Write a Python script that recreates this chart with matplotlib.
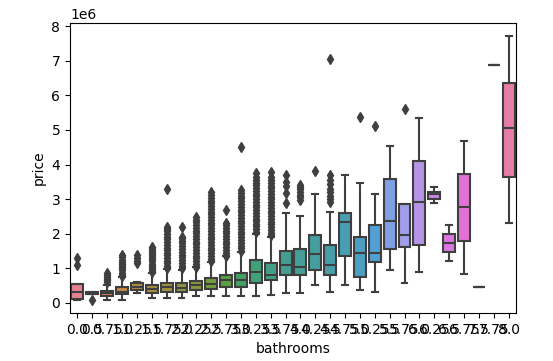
import matplotlib
matplotlib.use("Agg")
import matplotlib.pyplot as plt
import seaborn as sns

bathrooms = [0.0, 0.5, 0.75, 1.0, 1.25, 1.5, 1.75, 2.0, 2.25, 2.5, 2.75, 3.0, 3.25, 3.5, 3.75,
             4.0, 4.25, 4.5, 4.75, 5.0, 5.25, 5.5, 5.75, 6.0, 6.25, 6.5, 6.75, 7.5, 7.75, 8.0]

# price statistics in millions
q1 = [0.12, 0.26, 0.20, 0.25, 0.38, 0.28, 0.33, 0.32, 0.38, 0.40, 0.45, 0.45, 0.57, 0.65, 0.81,
      0.81, 0.95, 0.81, 1.36, 0.76, 1.18, 1.57, 1.61, 1.68, 3.00, 1.47, 1.80, 0.45, 6.89, 3.63]
median = [0.33, 0.27, 0.28, 0.33, 0.47, 0.41, 0.46, 0.44, 0.51, 0.55, 0.66, 0.66, 0.90, 0.82, 1.10,
          1.05, 1.42, 1.10, 2.35, 1.45, 1.45, 2.38, 1.96, 2.93, 3.15, 1.74, 2.77, 0.45, 6.89, 5.05]
q3 = [0.55, 0.31, 0.36, 0.45, 0.59, 0.52, 0.59, 0.58, 0.64, 0.71, 0.81, 0.86, 1.24, 1.15, 1.51,
      1.55, 1.97, 1.68, 2.61, 1.90, 2.25, 3.58, 2.86, 4.10, 3.22, 1.98, 3.73, 0.45, 6.89, 6.37]
whis_low = [0.10, 0.25, 0.09, 0.09, 0.28, 0.14, 0.13, 0.13, 0.20, 0.20, 0.20, 0.20, 0.20, 0.24, 0.28,
            0.28, 0.52, 0.31, 0.52, 0.38, 0.33, 0.95, 0.57, 0.90, 2.90, 1.21, 0.83, 0.45, 6.89, 2.30]
whis_high = [0.55, 0.32, 0.52, 0.74, 0.62, 0.87, 0.97, 0.96, 1.03, 1.18, 1.35, 1.47, 2.00, 1.90, 2.60,
             2.51, 3.15, 2.64, 3.70, 3.46, 3.15, 4.54, 2.86, 5.34, 3.34, 2.25, 4.68, 0.45, 6.89, 7.70]
outliers = [
    [1.10, 1.30],
    [0.08],
    [0.60, 0.65, 0.70, 0.75, 0.80, 0.88],
    [0.77, 0.82, 0.88, 0.94, 1.00, 1.06, 1.12, 1.18, 1.25, 1.32, 1.40],
    [1.15, 1.22, 1.30, 1.38],
    [0.90, 0.96, 1.02, 1.08, 1.14, 1.20, 1.26, 1.32, 1.38, 1.44, 1.50, 1.56, 1.62],
    [1.00, 1.07, 1.15, 1.22, 1.30, 1.38, 1.45, 1.53, 1.60, 1.68, 1.76, 1.84, 1.92, 2.00, 2.08,
     2.15, 2.20, 3.29],
    [1.00, 1.08, 1.16, 1.24, 1.32, 1.40, 1.48, 1.56, 1.64, 1.72, 1.80, 1.88, 1.92, 2.20],
    [1.05, 1.13, 1.21, 1.29, 1.37, 1.45, 1.53, 1.61, 1.69, 1.77, 1.85, 1.93, 2.01, 2.09, 2.17,
     2.25, 2.33, 2.41, 2.49],
    [1.20, 1.28, 1.36, 1.44, 1.52, 1.60, 1.68, 1.76, 1.84, 1.92, 2.00, 2.08, 2.16, 2.24, 2.32,
     2.40, 2.48, 2.56, 2.64, 2.72, 2.80, 2.88, 2.96, 3.04, 3.12, 3.22],
    [1.37, 1.45, 1.53, 1.61, 1.69, 1.77, 1.85, 1.93, 2.01, 2.09, 2.17, 2.25, 2.30, 2.70],
    [1.50, 1.58, 1.66, 1.74, 1.82, 1.90, 1.98, 2.06, 2.14, 2.22, 2.30, 2.38, 2.46, 2.54, 2.62,
     2.70, 2.78, 2.86, 2.94, 3.02, 3.10, 3.18, 3.27, 4.52],
    [2.05, 2.13, 2.21, 2.28, 2.36, 2.44, 2.52, 2.60, 2.68, 2.76, 2.84, 2.92, 3.00, 3.08, 3.16,
     3.24, 3.32, 3.40, 3.48, 3.56, 3.64, 3.75],
    [1.95, 2.03, 2.11, 2.19, 2.27, 2.35, 2.43, 2.51, 2.59, 2.67, 2.75, 2.83, 2.91, 2.99, 3.07,
     3.15, 3.23, 3.31, 3.39, 3.47, 3.55, 3.63, 3.77],
    [2.90, 3.17, 3.37, 3.50, 3.70],
    [2.98, 3.05, 3.12, 3.20, 3.28, 3.35, 3.42],
    [3.82],
    [2.93, 3.00, 3.10, 3.20, 3.30, 3.45, 3.55, 3.70, 7.06],
    [],
    [5.37],
    [5.12],
    [],
    [5.60],
    [], [], [], [], [], [], [],
]

scale = 1e6
stats = []
for i, b in enumerate(bathrooms):
    stats.append(dict(
        label=str(b),
        q1=q1[i] * scale, med=median[i] * scale, q3=q3[i] * scale,
        whislo=whis_low[i] * scale, whishi=whis_high[i] * scale,
        fliers=[v * scale for v in outliers[i]],
    ))

W, H = 553, 361
fig = plt.figure(figsize=(W / 100, H / 100), dpi=100)
ax = fig.add_axes([70 / W, 1 - 313 / H, (516 - 70) / W, (313 - 23) / H])

gray = "#3f3f3f"
lw = 1.5
palette = sns.color_palette("husl", len(bathrooms))
colors = [sns.desaturate(c, 0.75) for c in palette]

res = ax.bxp(stats, positions=list(range(len(bathrooms))), widths=0.8, patch_artist=True,
             boxprops=dict(edgecolor=gray, linewidth=lw),
             whiskerprops=dict(color=gray, linewidth=lw),
             capprops=dict(color=gray, linewidth=lw),
             medianprops=dict(color=gray, linewidth=lw),
             flierprops=dict(marker="d", markerfacecolor=gray, markeredgecolor=gray,
                             markersize=5, linestyle="none"))
for patch, c in zip(res["boxes"], colors):
    patch.set_facecolor(c)

ax.set_xlim(-0.5, len(bathrooms) - 0.5)
ax.set_ylim(-0.29e6, 8.09e6)
ax.set_yticks([i * 1e6 for i in range(9)])
ax.set_xticks(list(range(len(bathrooms))))
ax.set_xticklabels([str(b) for b in bathrooms])
ax.tick_params(labelsize=10)
ax.set_xlabel("bathrooms", fontsize=10)
ax.set_ylabel("price", fontsize=10)

fig.savefig("out.png", dpi=100)
